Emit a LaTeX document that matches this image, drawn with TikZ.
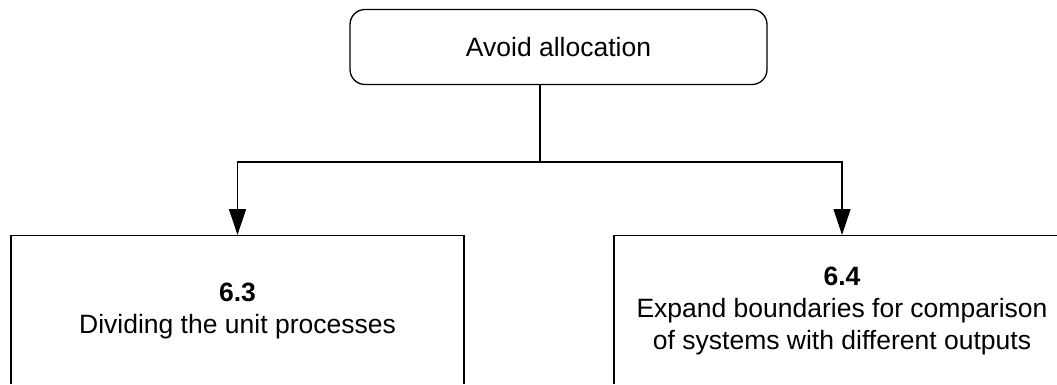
\documentclass[tikz,border=0pt]{standalone}
\usepackage{fontspec}
\setmainfont{Liberation Sans}
\usetikzlibrary{arrows.meta}
\begin{document}
\begin{tikzpicture}[x=1pt,y=-1pt, line width=1.3pt,
 topbox/.style={draw, rounded corners=15pt, minimum width=417pt, minimum height=75pt, font=\fontsize{26.5}{32}\selectfont, inner sep=0pt},
 subbox/.style={draw, minimum height=150pt, align=center, font=\fontsize{26.5}{32}\selectfont, inner sep=0pt, anchor=north},
 arr/.style={-{Triangle[length=26pt,width=17pt]}}]
\useasboundingbox (0,0) rectangle (1057,385);
\clip (-5,-5) rectangle (1062,383.5);
\node[topbox] (top) at (558.5,47) {Avoid allocation};
\node[subbox, minimum width=453pt] (a) at (237.5,235) {\textbf{6.3}\\Dividing the unit processes};
\node[subbox, minimum width=456pt] (b) at (842,235) {\textbf{6.4}\\Expand boundaries for comparison\\of systems with different outputs};
\coordinate (j) at (540,162);
\draw (top.south -| j) -- (j);
\draw[arr] (j) -| (a.north);
\draw[arr] (j) -| (b.north);
\end{tikzpicture}
\end{document}
